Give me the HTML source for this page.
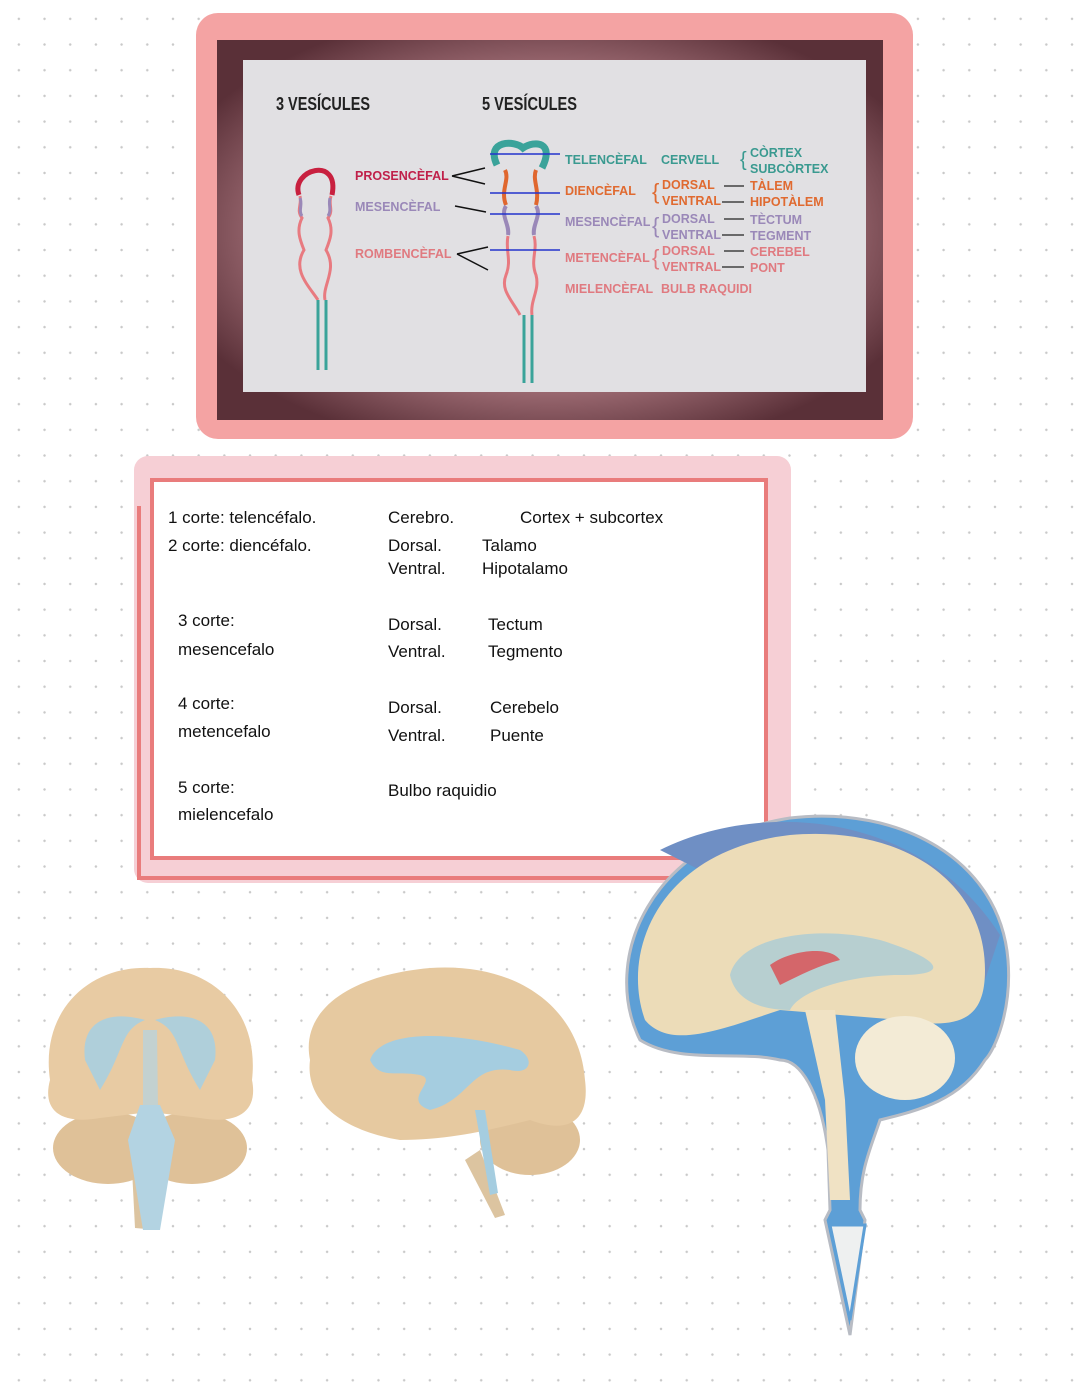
<!DOCTYPE html>
<html><head><meta charset="utf-8"><style>
body{margin:0;width:1080px;height:1394px;overflow:hidden;background:#fff;
background-image:radial-gradient(circle,#c9c9c9 1.1px,transparent 1.4px);background-size:25.7px 25.7px;background-position:6px 6px;}
svg{position:absolute;left:0;top:0}
.n{font-family:"Liberation Sans Narrow","Liberation Sans",sans-serif;font-weight:bold;font-size:12.5px}
.h{font-family:"Liberation Sans Narrow","Liberation Sans",sans-serif;font-weight:bold;font-size:18px;fill:#222}
.t{font-family:"Liberation Sans",sans-serif;font-size:17px;fill:#111}
</style></head><body>
<svg width="1080" height="1394" viewBox="0 0 1080 1394">
<defs>
<radialGradient id="fr" cx="50%" cy="50%" r="60%"><stop offset="0.7" stop-color="#9c6a72"/><stop offset="1" stop-color="#5a3038"/></radialGradient>
</defs>
<rect x="196" y="13" width="717" height="426" rx="22" fill="#f4a3a3"/>
<rect x="217" y="40" width="666" height="380" fill="url(#fr)"/>
<rect x="243" y="60" width="623" height="332" fill="#e1e0e3"/>
<text class="h" x="276" y="110" textLength="94" lengthAdjust="spacingAndGlyphs">3 VESÍCULES</text>
<text class="h" x="482" y="110" textLength="95" lengthAdjust="spacingAndGlyphs">5 VESÍCULES</text>
<path d="M299 195 C290 170 340 155 332 195" fill="none" stroke="#c8203f" stroke-width="5"/>
<path d="M300 196 C302 205 296 210 302 218 C296 230 300 240 304 250 C292 270 308 285 318 300 M331 196 C328 205 334 210 328 218 C334 230 330 240 326 250 C338 270 322 285 325 300" fill="none" stroke="#e87a80" stroke-width="3"/>
<path d="M300 198 C303 205 298 210 302 216 M330 198 C328 205 332 210 328 216" fill="none" stroke="#9a88b8" stroke-width="3"/>
<path d="M318 300 V370 M326 300 V370" stroke="#3aa39a" stroke-width="3"/>
<path d="M497 165 C485 140 515 140 523 148 C535 140 555 142 542 168" fill="none" stroke="#3aa39a" stroke-width="7"/>
<path d="M505 170 C510 180 500 190 506 205 M536 170 C532 180 540 190 536 205" fill="none" stroke="#e0672e" stroke-width="4"/>
<path d="M506 206 C500 215 510 225 508 235 M536 206 C542 215 532 225 534 235" fill="none" stroke="#9a88b8" stroke-width="4"/>
<path d="M508 236 C505 250 512 260 506 275 C500 290 512 300 520 315 M534 236 C538 250 530 260 536 275 C540 290 530 300 532 315" fill="none" stroke="#e87a80" stroke-width="3"/>
<path d="M524 315 V383 M532 315 V383" stroke="#3aa39a" stroke-width="3"/>
<path d="M490 154 H560 M490 193 H560 M490 214 H560 M490 250 H560" stroke="#2233cc" stroke-width="1.6"/>
<path d="M452 176 L485 168 M452 176 L485 184 M455 206 L486 212 M457 254 L488 247 M457 254 L488 270" stroke="#111" stroke-width="1.5"/>
<text class="n" x="355" y="180" fill="#c0204a">PROSENCÈFAL</text>
<text class="n" x="355" y="211" fill="#9a88b8">MESENCÈFAL</text>
<text class="n" x="355" y="258" fill="#e07a80">ROMBENCÈFAL</text>
<g class="n">
<text x="565" y="164" fill="#3a9a90">TELENCÈFAL</text><text x="661" y="164" fill="#3a9a90">CERVELL</text>
<text x="740" y="166" fill="#3a9a90" font-size="20" font-weight="normal">{</text>
<text x="750" y="157" fill="#3a9a90">CÒRTEX</text><text x="750" y="173" fill="#3a9a90">SUBCÒRTEX</text>
<text x="565" y="195" fill="#e06a30">DIENCÈFAL</text>
<text x="652" y="199" fill="#e06a30" font-size="22" font-weight="normal">{</text>
<text x="662" y="189" fill="#e06a30">DORSAL</text><text x="662" y="205" fill="#e06a30">VENTRAL</text>
<text x="750" y="190" fill="#e06a30">TÀLEM</text><text x="750" y="206" fill="#e06a30">HIPOTÀLEM</text>
<text x="565" y="226" fill="#9a88b8">MESENCÈFAL</text>
<text x="652" y="233" fill="#9a88b8" font-size="22" font-weight="normal">{</text>
<text x="662" y="223" fill="#9a88b8">DORSAL</text><text x="662" y="239" fill="#9a88b8">VENTRAL</text>
<text x="750" y="224" fill="#9a88b8">TÈCTUM</text><text x="750" y="240" fill="#9a88b8">TEGMENT</text>
<text x="565" y="262" fill="#e07a80">METENCÈFAL</text>
<text x="652" y="265" fill="#e07a80" font-size="22" font-weight="normal">{</text>
<text x="662" y="255" fill="#e07a80">DORSAL</text><text x="662" y="271" fill="#e07a80">VENTRAL</text>
<text x="750" y="256" fill="#e07a80">CEREBEL</text><text x="750" y="272" fill="#e07a80">PONT</text>
<text x="565" y="293" fill="#e07a80">MIELENCÈFAL</text><text x="661" y="293" fill="#e07a80">BULB RAQUIDI</text>
</g>
<path d="M724 186 H744 M722 202 H744 M724 219 H744 M722 235 H744 M724 251 H744 M722 267 H744" stroke="#222" stroke-width="1.3"/>
<rect x="134" y="456" width="657" height="427" rx="14" fill="#f6cfd5"/>
<rect x="152" y="480" width="614" height="378" fill="#fff" stroke="#e97c7c" stroke-width="4"/>
<path d="M139 506 V878 H680" fill="none" stroke="#e97c7c" stroke-width="4"/>
<g class="t">
<text x="168" y="523">1 corte: telencéfalo.</text><text x="388" y="523">Cerebro.</text><text x="520" y="523">Cortex + subcortex</text>
<text x="168" y="551">2 corte: diencéfalo.</text><text x="388" y="551">Dorsal.</text><text x="482" y="551">Talamo</text>
<text x="388" y="574">Ventral.</text><text x="482" y="574">Hipotalamo</text>
<text x="178" y="626">3 corte:</text><text x="388" y="630">Dorsal.</text><text x="488" y="630">Tectum</text>
<text x="178" y="655">mesencefalo</text><text x="388" y="657">Ventral.</text><text x="488" y="657">Tegmento</text>
<text x="178" y="709">4 corte:</text><text x="388" y="713">Dorsal.</text><text x="490" y="713">Cerebelo</text>
<text x="178" y="737">metencefalo</text><text x="388" y="741">Ventral.</text><text x="490" y="741">Puente</text>
<text x="178" y="793">5 corte:</text><text x="388" y="796">Bulbo raquidio</text>
<text x="178" y="820">mielencefalo</text>
</g>
<!-- front brain -->
<path d="M130 1130 L135 1228 L158 1230 L162 1130 Z" fill="#dcc4a0"/>
<ellipse cx="108" cy="1148" rx="55" ry="36" fill="#dfc198"/>
<ellipse cx="192" cy="1148" rx="55" ry="36" fill="#dfc198"/>
<path d="M50 1080 C40 1010 90 965 150 968 C210 965 260 1010 252 1080 C258 1110 240 1125 200 1118 L150 1112 L100 1118 C60 1125 42 1110 50 1080 Z" fill="#e8cba3"/>
<path d="M85 1060 C80 1020 110 1010 145 1020 C120 1030 125 1050 100 1090 Z M215 1060 C220 1020 190 1010 155 1020 C180 1030 175 1050 200 1090 Z" fill="#a9cfe0" opacity="0.9"/>
<path d="M143 1030 L157 1030 L158 1110 L143 1110 Z" fill="#b3d3e2" opacity="0.7"/>
<path d="M140 1105 L160 1105 L175 1140 L160 1230 L143 1230 L128 1140 Z" fill="#b3d3e2"/>
<!-- side brain -->
<path d="M480 1150 L505 1215 L495 1218 L465 1160 Z" fill="#dcc4a0"/>
<ellipse cx="530" cy="1140" rx="50" ry="35" fill="#dfc198"/>
<path d="M310 1060 C300 1010 350 975 430 968 C520 962 580 1010 585 1080 C590 1120 570 1135 530 1120 C490 1130 450 1140 400 1140 C340 1130 305 1100 310 1060 Z" fill="#e6c9a0"/>
<path d="M370 1060 C380 1030 450 1030 520 1050 C535 1060 530 1075 510 1070 C470 1065 470 1100 430 1110 C400 1100 440 1080 420 1075 C395 1070 380 1080 370 1060 Z" fill="#a5cde0"/>
<path d="M475 1110 L490 1195 L498 1193 L485 1110 Z" fill="#a5cde0"/>
<!-- sagittal brain -->
<path d="M640 1040 C600 960 650 840 790 818 C900 805 1000 860 1008 960 C1012 1010 995 1050 985 1060 C960 1100 920 1110 880 1120 C870 1150 860 1170 860 1210 L865 1220 L850 1335 L825 1220 L830 1210 L828 1150 C820 1090 800 1060 780 1060 C740 1050 680 1065 640 1040 Z" fill="#5d9fd6" stroke="#b8bcc4" stroke-width="3"/>
<path d="M660 850 C760 800 920 810 1000 935 L985 980 C960 880 820 830 700 870 Z" fill="#6f8fc4"/>
<path d="M645 1020 C620 950 660 850 790 835 C900 825 985 880 985 970 C985 1020 960 1030 900 1020 L780 1010 C720 1030 670 1050 645 1020 Z" fill="#ecdcb8"/>
<path d="M730 975 C740 935 820 925 880 940 C930 955 960 975 900 975 C850 975 800 990 790 1010 C760 1010 735 1000 730 975 Z" fill="#b7cfd0"/>
<path d="M770 965 C790 950 830 945 840 960 C820 965 800 975 780 985 Z" fill="#d4666a"/>
<path d="M805 1010 L835 1010 L845 1100 L850 1200 L830 1200 L825 1100 Z" fill="#f0e2c4"/>
<ellipse cx="905" cy="1058" rx="50" ry="42" fill="#f3ebd6"/>
<path d="M830 1225 L865 1225 L850 1320 Z" fill="#eef0f0" stroke="#5d9fd6" stroke-width="3"/>
</svg>
</body></html>
